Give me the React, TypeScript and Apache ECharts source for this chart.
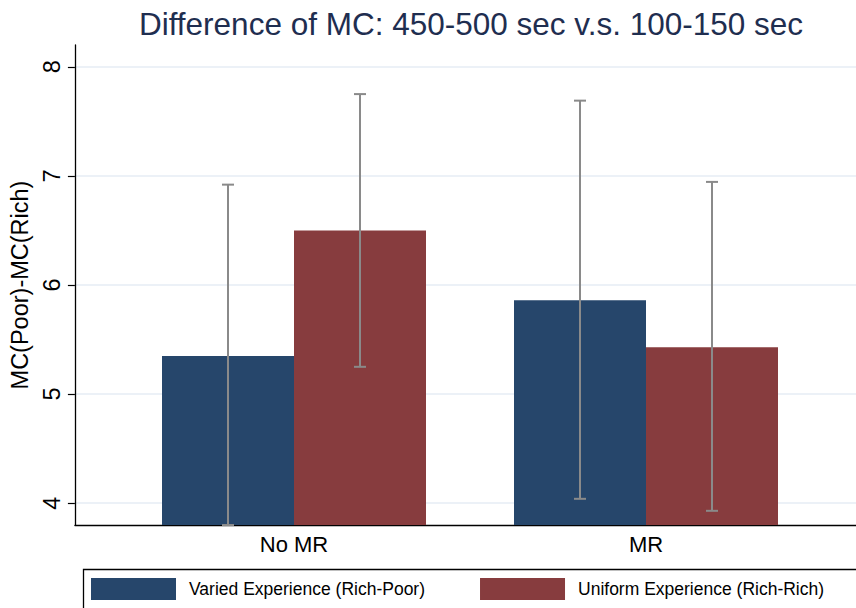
import React, { useEffect, useRef } from "react";
import * as echarts from "echarts";

const categories = ["No MR", "MR"];
const seriesNames = ["Varied Experience (Rich-Poor)", "Uniform Experience (Rich-Rich)"];
const variedMean = [5.35, 5.86];
const uniformMean = [6.5, 5.43];
const variedLow = [3.8, 4.04];
const variedHigh = [6.92, 7.69];
const uniformLow = [5.25, 3.93];
const uniformHigh = [7.75, 6.945];
const yTicks = [4, 5, 6, 7, 8];

const NAVY = "#26466b";
const MAROON = "#873c3e";
const FONT = "Liberation Sans, Arial, Helvetica, sans-serif";

export default function App() {
  const ref = useRef<HTMLDivElement>(null);
  useEffect(() => {
    if (!ref.current) return;
    const chart = echarts.init(ref.current, undefined, { renderer: "svg" });
    const makeErr = (low: number[], high: number[], sign: number) =>
      ({
        type: "custom",
        xAxisIndex: 1,
        yAxisIndex: 1,
        z: 5,
        silent: true,
        data: categories.map((_, i) => [i, low[i], high[i]]),
        renderItem: (params: any, api: any) => {
          const cat = api.value(0);
          const lo = api.coord([cat, api.value(1)]);
          const hi = api.coord([cat, api.value(2)]);
          const band = api.size([1, 0])[0];
          const x = lo[0] + sign * band * 0.1875;
          const cap = 6;
          const style = { stroke: "#8a8a8a", lineWidth: 2, fill: "none" };
          return {
            type: "group",
            children: [
              { type: "line", shape: { x1: x, y1: lo[1], x2: x, y2: hi[1] }, style },
              { type: "line", shape: { x1: x - cap, y1: lo[1], x2: x + cap, y2: lo[1] }, style },
              { type: "line", shape: { x1: x - cap, y1: hi[1], x2: x + cap, y2: hi[1] }, style },
            ],
          };
        },
      }) as any;

    chart.setOption({
      animation: false,
      textStyle: { fontFamily: FONT },
      title: {
        text: "Difference of MC: 450-500 sec v.s. 100-150 sec",
        left: 466,
        textAlign: "center",
        top: 3,
        textStyle: { fontFamily: FONT, fontSize: 31.5, fontWeight: "normal", color: "#1f2e50" },
      },
      grid: [
        { left: 73, right: 0, top: 45, bottom: 83 },
        { left: 118, right: 34, top: 45, bottom: 83 },
      ],
      xAxis: [
        {
          gridIndex: 0,
          type: "value",
          min: 0,
          max: 1,
          axisLine: { show: true, onZero: false, lineStyle: { color: "#000", width: 1.3 } },
          axisTick: { show: false },
          axisLabel: { show: false },
          splitLine: { show: false },
        },
        {
          gridIndex: 1,
          type: "category",
          data: categories,
          axisLine: { show: false },
          axisTick: { show: false },
          axisLabel: { fontFamily: FONT, fontSize: 22, color: "#000", margin: 8 },
        },
      ],
      yAxis: [
        {
          gridIndex: 0,
          type: "value",
          min: 3.8,
          max: 8.2,
          interval: 1,
          axisLine: { show: true, lineStyle: { color: "#000", width: 1.3 } },
          axisTick: { show: true, length: 7, lineStyle: { color: "#000", width: 1.2 }, customValues: yTicks },
          axisLabel: {
            rotate: 90,
            fontFamily: FONT,
            fontSize: 23.5,
            color: "#000",
            margin: 11,
            customValues: yTicks,
          },
          splitLine: { show: true, lineStyle: { color: "#e6edf4", width: 1.5 } },
          name: "MC(Poor)-MC(Rich)",
          nameLocation: "middle",
          nameRotate: 90,
          nameGap: 40,
          nameTextStyle: { fontFamily: FONT, fontSize: 23.5, color: "#000" },
        },
        {
          gridIndex: 1,
          type: "value",
          min: 3.8,
          max: 8.2,
          show: false,
          splitLine: { show: false },
        },
      ],
      legend: {
        left: 91,
        top: 578,
        padding: 0,
        itemWidth: 85,
        itemHeight: 22,
        itemGap: 55,
        icon: "rect",
        data: seriesNames,
        textStyle: { fontFamily: FONT, fontSize: 17.5, color: "#000", padding: [0, 0, 0, 8] },
      },
      graphic: [
        {
          type: "rect",
          left: 81,
          top: 567,
          shape: { width: 800, height: 60 },
          style: { fill: "none", stroke: "#000", lineWidth: 1.3 },
          silent: true,
        },
      ],
      series: [
        {
          name: seriesNames[0],
          type: "bar",
          xAxisIndex: 1,
          yAxisIndex: 1,
          data: variedMean,
          barGap: "0%",
          barCategoryGap: "25%",
          itemStyle: { color: NAVY },
        },
        {
          name: seriesNames[1],
          type: "bar",
          xAxisIndex: 1,
          yAxisIndex: 1,
          data: uniformMean,
          barGap: "0%",
          barCategoryGap: "25%",
          itemStyle: { color: MAROON },
        },
        makeErr(variedLow, variedHigh, -1),
        makeErr(uniformLow, uniformHigh, 1),
      ],
    });
    return () => chart.dispose();
  }, []);
  return <div ref={ref} style={{ width: 856, height: 608, position: "absolute", left: 0, top: 0 }} />;
}
